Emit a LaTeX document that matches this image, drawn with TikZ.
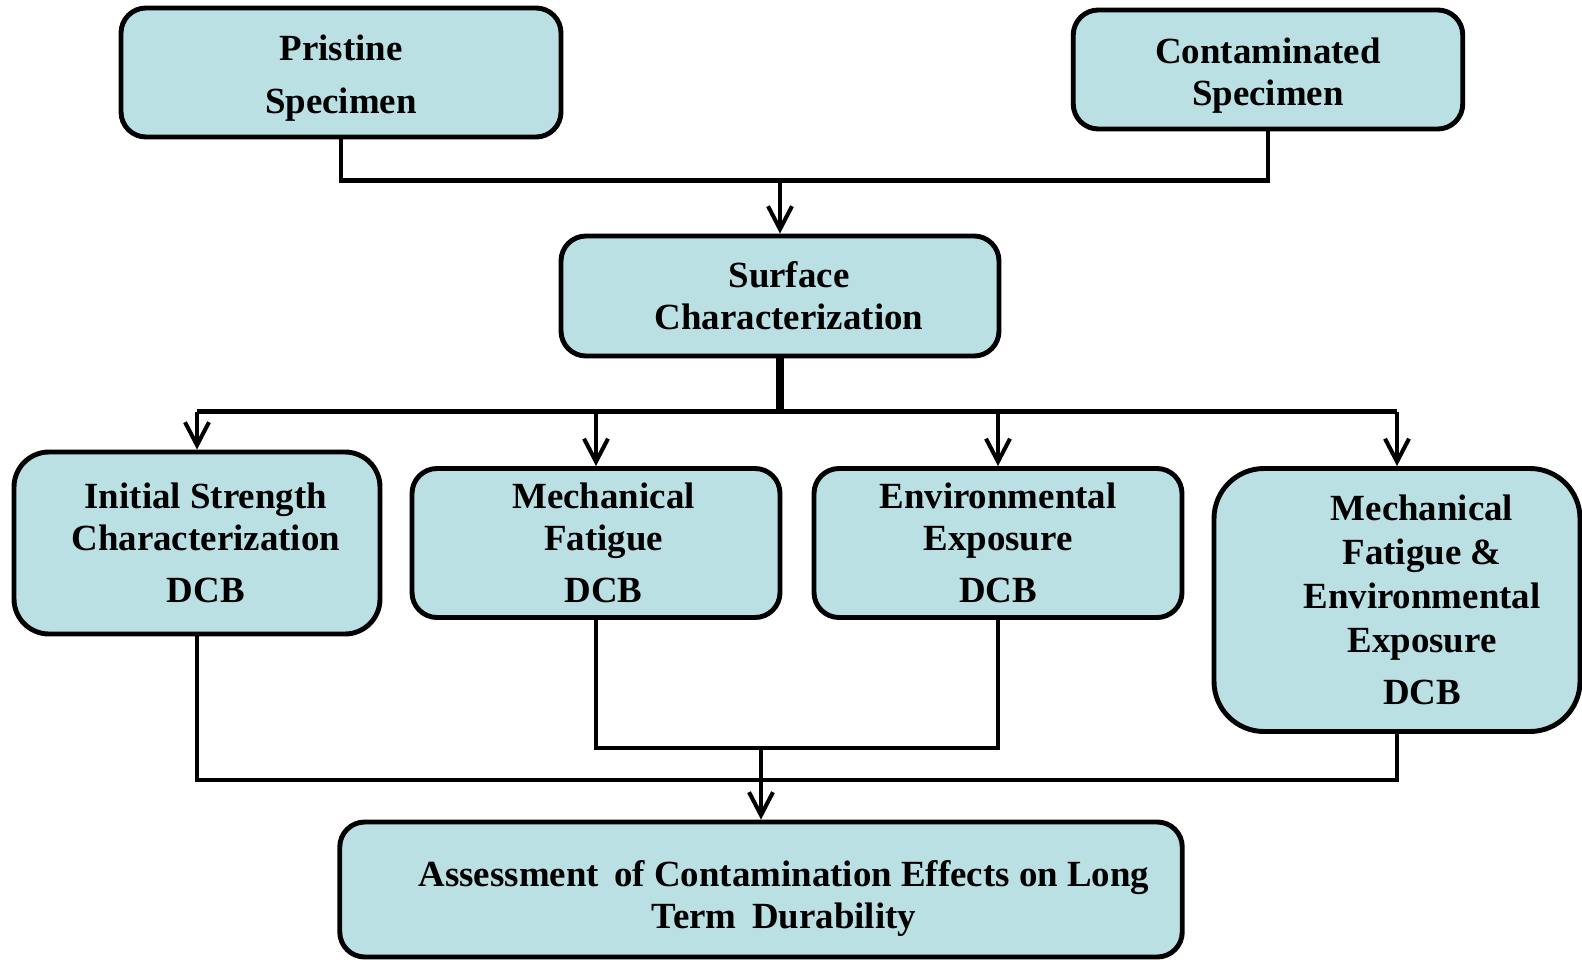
\documentclass[tikz,border=0pt]{standalone}
\usepackage{fontspec}
\setmainfont{Liberation Serif}
\usetikzlibrary{arrows.meta}
\definecolor{boxblue}{RGB}{186,224,228}

\begin{document}
\begin{tikzpicture}[>={Straight Barb[length=4.6mm,width=4.8mm]},
			main node/.style={rectangle,rounded corners=5mm,fill=boxblue,draw,
				line width=2.8pt,align=center,
				font=\bfseries\fontsize{21}{24}\selectfont},
			wire/.style={line width=2.3pt},
			stem/.style={line width=5.1pt}
			]
			\useasboundingbox (0,0) rectangle (31.64,-19.2);
			
			\node[main node,minimum width=8.8cm,minimum height=2.58cm] (PS) at (6.82,-1.45) {\rule{0pt}{0.75cm}Pristine\\[0.22cm]Specimen};
			\node[main node,minimum width=7.79cm,minimum height=2.38cm] (CS) at (25.36,-1.39) {\rule{0pt}{0.75cm}Contaminated\\Specimen};
			\node[main node,minimum width=8.76cm,minimum height=2.4cm] (SC) at (15.6,-5.92) {\hspace*{0.36cm}Surface\\\hspace*{0.36cm}Characterization};
			
			\node[main node,rounded corners=7mm,minimum width=7.32cm,minimum height=3.64cm] (ISC) at (3.94,-10.86) {\hspace*{0.35cm}Initial Strength\\\hspace*{0.35cm}Characterization\\[0.2cm]\hspace*{0.35cm}DCB};
			\node[main node,minimum width=7.36cm,minimum height=2.98cm] (MF) [right of=ISC, node distance=7.98cm] {\hspace*{0.3cm}Mechanical\\\hspace*{0.3cm}Fatigue\\[0.2cm]\hspace*{0.3cm}DCB};
			\node[main node,minimum width=7.36cm,minimum height=2.98cm] (EE) [right of=MF, node distance=8.04cm] {Environmental\\Exposure\\[0.2cm]DCB};
			\node[main node,rounded corners=10mm,minimum width=7.32cm,minimum height=5.26cm] (MFE) at (27.94,-12.0) {\hspace*{1cm}Mechanical\\[0.04cm]\hspace*{1cm}Fatigue \&\\[0.04cm]\hspace*{1cm}Environmental\\[0.04cm]\hspace*{1cm}Exposure\\[0.2cm]\hspace*{1cm}DCB};
			
			\node[main node,minimum width=16.85cm,minimum height=2.7cm] (ACE) at (15.22,-17.79) {\rule{0pt}{0.88cm}\hspace*{0.92cm}Assessment\, of Contamination Effects on Long\\\hspace*{0.92cm}Term\, Durability};
			
			% bus lines
			\coordinate (tb) at (0,-3.61);
			\coordinate (mb) at (0,-8.23);
			\coordinate (lb) at (0,-14.96);
			\coordinate (bb) at (0,-15.6);
			
			\draw[wire] (PS.south) -- (PS.south |- tb) -- (CS.south |- tb) -- (CS.south);
			\draw[wire,->] (SC.north |- tb) -- (SC.north);
			
			\draw[stem] (SC.south) -- (SC.south |- mb);
			\draw[wire] (ISC.north |- mb) -- (MFE.north |- mb);
			\foreach \n in {ISC,MF,EE,MFE}
				\draw[wire,->] (\n.north |- mb) -- (\n.north);
			
			\draw[wire] (ISC.south) -- (ISC.south |- bb) -- (MFE.south |- bb) -- (MFE.south);
			\draw[wire] (MF.south) -- (MF.south |- lb) -- (EE.south |- lb) -- (EE.south);
			\draw[wire,->] (ACE.north |- lb) -- (ACE.north);
			
		\end{tikzpicture}
\end{document}
